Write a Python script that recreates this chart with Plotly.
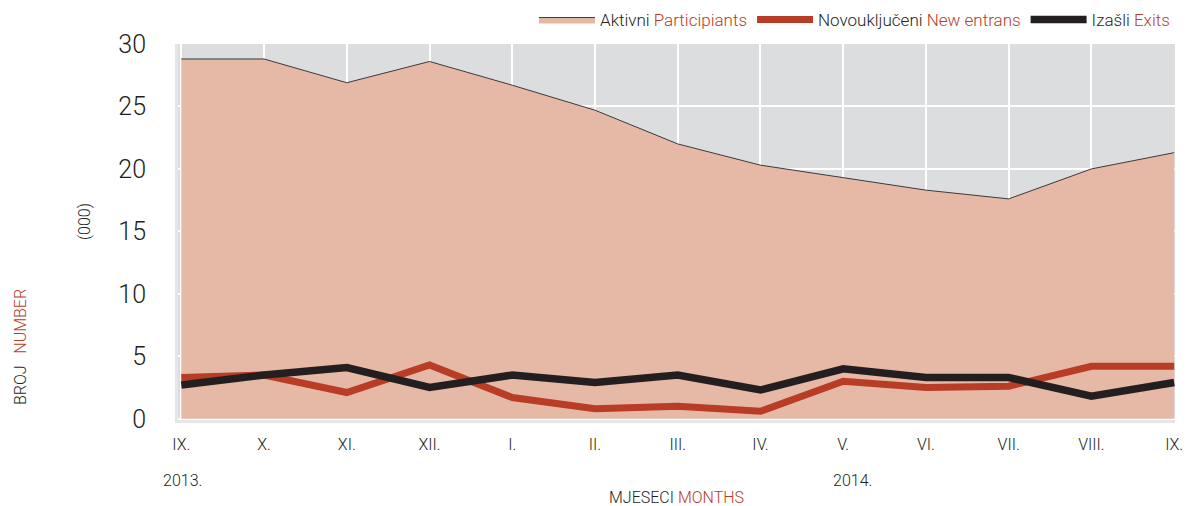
import plotly.graph_objects as go

months = ["IX.", "X.", "XI.", "XII.", "I.", "II.", "III.", "IV.", "V.", "VI.", "VII.", "VIII.", "IX."]
participants = [28.8, 28.8, 26.9, 28.6, 26.7, 24.7, 22.0, 20.3, 19.3, 18.3, 17.6, 20.0, 21.3]
new_entrants = [3.3, 3.5, 2.1, 4.3, 1.7, 0.8, 1.0, 0.6, 3.0, 2.5, 2.6, 4.2, 4.2]
exits = [2.7, 3.5, 4.1, 2.5, 3.5, 2.9, 3.5, 2.3, 4.0, 3.3, 3.3, 1.8, 2.9]

RED = "#b83c26"
DARK = "#231f20"
FONT = "Roboto"

x = list(range(len(months)))

fig = go.Figure()
fig.add_trace(go.Scatter(
    x=x, y=participants, mode="lines", fill="tozeroy",
    fillcolor="#e5b9a6", line=dict(color="#3a3a3a", width=1),
    name=f"Aktivni <span style='color:{RED}'>Participiants</span>"))
fig.add_trace(go.Scatter(
    x=x, y=new_entrants, mode="lines", line=dict(color=RED, width=7),
    name=f"Novouključeni <span style='color:{RED}'>New entrans</span>"))
fig.add_trace(go.Scatter(
    x=x, y=exits, mode="lines", line=dict(color=DARK, width=7.5),
    name=f"Izašli <span style='color:{RED}'>Exits</span>"))

# the page body adds an 8px margin, so the figure is a bit smaller
W, H = 1191, 498
L, R, T, B = 170, 24, 36, 86
pw = W - L - R
ph = H - T - B

fig.update_layout(
    width=W, height=H,
    margin=dict(l=L, r=R, t=T, b=B, autoexpand=False),
    paper_bgcolor="white", plot_bgcolor="#dcdddf",
    font=dict(family=FONT, color=DARK, weight=300),
    showlegend=True,
    legend=dict(orientation="h", x=1.0, xanchor="right", y=1 - 12 / H, yanchor="middle",
                yref="container", itemwidth=56,
                font=dict(size=17, color=DARK, weight=300), bgcolor="rgba(0,0,0,0)"),
    xaxis=dict(range=[-0.04, 12.01], tickvals=x, ticktext=months,
               showgrid=True, gridcolor="white", gridwidth=1.5,
               zeroline=False, showline=True, linecolor="#e6e6e8", linewidth=3,
               tickfont=dict(size=16, color=DARK, weight=300), ticks="", ticklabelstandoff=8),
    yaxis=dict(range=[-0.1, 30], tickvals=[0, 5, 10, 15, 20, 25, 30],
               showgrid=True, gridcolor="white", gridwidth=1.5,
               zeroline=False, showline=True, linecolor="#e6e6e8", linewidth=3,
               tickfont=dict(size=25, color=DARK, weight=300), ticks="", ticklabelstandoff=24),
)


def paper(px, py):
    # screen pixels -> paper coords
    return (px - 8 - L) / pw, (H - (py - 8) - B) / ph


labels = [
    (182, 480, "2013.", 0),
    (852, 481, "2014.", 0),
    (676, 497, f"MJESECI <span style='color:{RED}'>MONTHS</span>", 0),
    (20, 347, f"BROJ &nbsp;&nbsp;<span style='color:{RED}'>NUMBER</span>", -90),
    (84, 222, "(000)", -90),
]
for px, py, text, ang in labels:
    ax, ay = paper(px, py)
    fig.add_annotation(x=ax, y=ay, xref="paper", yref="paper", text=text,
                       textangle=ang, showarrow=False, xanchor="center", yanchor="middle",
                       font=dict(size=16, color=DARK, weight=300))

fig.write_html("out.html")
